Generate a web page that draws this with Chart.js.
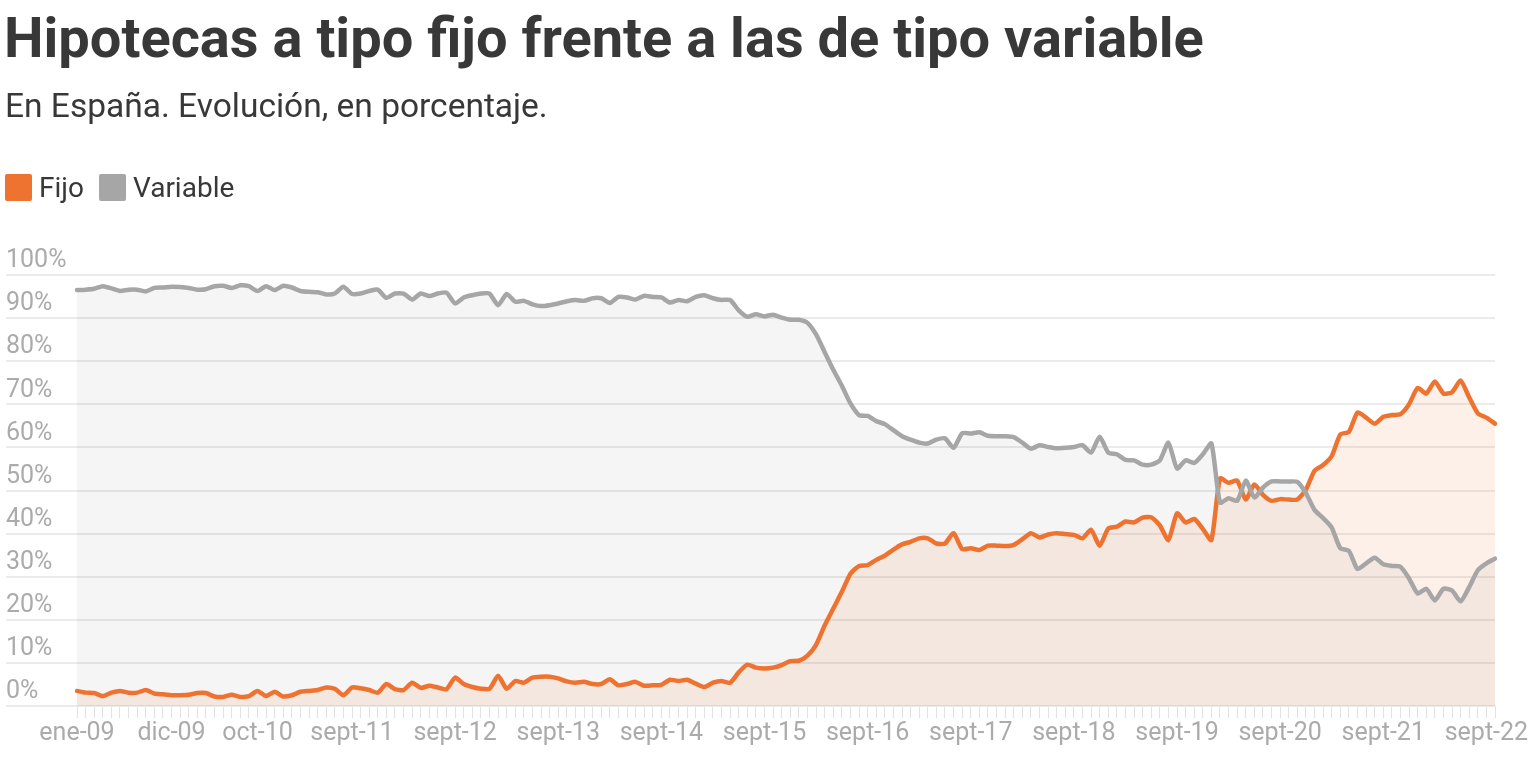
<!DOCTYPE html>
<html>
<head>
<meta charset="utf-8">
<script src="https://cdn.jsdelivr.net/npm/chart.js@4.4.0/dist/chart.umd.min.js"></script>
<style>
  html, body { margin: 0; padding: 0; background: #ffffff; }
  #wrap { position: relative; width: 1528px; height: 758px; overflow: hidden; font-family: Roboto, "Noto Sans", sans-serif; }
  #chart { position: absolute; left: 0; top: 0; }
  #title { position: absolute; left: 4px; top: 10px; font-size: 56px; line-height: 1; font-weight: 700; color: #383838; white-space: nowrap; }
  #subtitle { position: absolute; left: 5px; top: 89px; font-size: 33.5px; line-height: 1; font-weight: 400; color: #383838; white-space: nowrap; }
  #legend { position: absolute; left: 5px; top: 174px; height: 27px; display: flex; align-items: center; font-size: 28px; color: #383838; }
  #legend .box { width: 27px; height: 27px; border-radius: 2px; margin-right: 7px; }
  #legend .txt { line-height: 27px; margin-right: 15px; white-space: nowrap; }
</style>
</head>
<body>
<div id="wrap">
  <canvas id="chart" width="1528" height="758"></canvas>
  <div id="title">Hipotecas a tipo fijo frente a las de tipo variable</div>
  <div id="subtitle">En España. Evolución, en porcentaje.</div>
  <div id="legend"></div>
</div>
<script>
// ---- Data ----
const monthNames = ['ene','feb','mar','abr','may','jun','jul','ago','sept','oct','nov','dic'];
const startYear = 2009, endYear = 2022, endMonth = 10; // ene-09 .. oct-22
const categories = [];
for (let y = startYear; y <= endYear; y++) {
  for (let m = 1; m <= 12; m++) {
    if (y === endYear && m > endMonth) break;
    categories.push(monthNames[m - 1] + '-' + String(y).slice(2));
  }
}
const tickLabels = ['ene-09','dic-09','oct-10','sept-11','sept-12','sept-13','sept-14','sept-15',
                    'sept-16','sept-17','sept-18','sept-19','sept-20','sept-21','sept-22'];

const fijo = [
  3.5, 3.1, 3.0, 2.3, 3.1, 3.5, 3.1, 3.1, 3.7, 2.9, 2.7, 2.5,
  2.5, 2.6, 3.0, 3.0, 2.2, 2.1, 2.6, 2.1, 2.3, 3.5, 2.3, 3.3,
  2.2, 2.5, 3.3, 3.5, 3.7, 4.3, 4.0, 2.5, 4.3, 4.1, 3.7, 3.1,
  5.1, 3.9, 3.7, 5.4, 4.2, 4.7, 4.3, 3.9, 6.6, 5.1, 4.4, 4.0,
  4.0, 7.0, 4.0, 5.8, 5.4, 6.6, 6.8, 6.8, 6.4, 5.7, 5.4, 5.6,
  5.1, 5.1, 6.2, 4.8, 5.1, 5.6, 4.7, 4.8, 4.9, 6.1, 5.8, 6.1,
  5.2, 4.4, 5.4, 5.8, 5.4, 7.8, 9.6, 8.9, 8.7, 8.9, 9.5, 10.4,
  10.5, 11.7, 14.2, 18.7, 22.6, 26.5, 30.7, 32.5, 32.7, 33.9, 34.9, 36.3,
  37.5, 38.1, 38.9, 38.9, 37.7, 37.7, 40.1, 36.4, 36.6, 36.2, 37.2, 37.2,
  37.1, 37.4, 38.7, 40.1, 39.1, 39.8, 40.1, 39.9, 39.7, 38.9, 40.9, 37.2,
  41.2, 41.6, 42.8, 42.6, 43.7, 43.8, 41.9, 38.5, 44.7, 42.6, 43.4, 41.1,
  38.5, 52.8, 51.8, 52.3, 47.9, 51.4, 49.0, 47.6, 48.0, 47.9, 47.9, 50.2,
  54.6, 55.9, 58.0, 63.0, 63.6, 68.1, 66.9, 65.5, 67.1, 67.5, 67.7, 70.0,
  73.8, 72.5, 75.3, 72.5, 72.8, 75.5, 71.6, 67.9, 66.9, 65.5
];
const variable = [
  96.5, 96.6, 96.8, 97.4, 96.9, 96.3, 96.6, 96.6, 96.2, 97.0, 97.1, 97.3,
  97.2, 97.0, 96.6, 96.7, 97.4, 97.5, 97.0, 97.6, 97.4, 96.3, 97.4, 96.5,
  97.5, 97.1, 96.3, 96.1, 96.0, 95.5, 95.7, 97.3, 95.6, 95.7, 96.3, 96.6,
  94.7, 95.7, 95.7, 94.3, 95.7, 95.1, 95.7, 95.9, 93.4, 94.8, 95.3, 95.7,
  95.7, 93.0, 95.6, 93.8, 94.0, 93.2, 92.8, 93.0, 93.4, 93.9, 94.2, 94.0,
  94.6, 94.6, 93.5, 94.9, 94.8, 94.3, 95.2, 94.9, 94.8, 93.6, 94.2, 93.9,
  94.9, 95.3, 94.6, 94.2, 94.2, 91.8, 90.3, 90.9, 90.4, 90.8, 90.1, 89.6,
  89.6, 88.9, 86.2, 82.1, 78.0, 74.3, 70.2, 67.5, 67.3, 66.1, 65.4, 64.0,
  62.6, 61.8, 61.1, 60.9, 61.8, 62.1, 59.9, 63.3, 63.2, 63.5, 62.7, 62.6,
  62.6, 62.4, 61.1, 59.7, 60.5, 60.1, 59.8, 59.9, 60.1, 60.5, 58.8, 62.5,
  58.8, 58.4, 57.1, 57.0, 56.0, 56.0, 57.0, 61.1, 55.1, 57.0, 56.4, 58.4,
  60.9, 47.2, 48.2, 47.6, 52.3, 48.4, 50.7, 52.1, 52.1, 52.1, 52.0, 49.4,
  45.5, 43.6, 41.4, 36.6, 36.0, 31.8, 33.1, 34.4, 32.9, 32.5, 32.3, 29.6,
  26.1, 27.2, 24.5, 27.2, 26.8, 24.3, 27.6, 31.5, 33.1, 34.2
];

const seriesNames = ['Fijo', 'Variable'];
const ORANGE = '#ef7330';
const GRAY = '#a6a6a6';

// ---- Legend (HTML) ----
const legendEl = document.getElementById('legend');
[[seriesNames[0], ORANGE], [seriesNames[1], GRAY]].forEach(([name, col]) => {
  const b = document.createElement('span'); b.className = 'box'; b.style.background = col;
  const t = document.createElement('span'); t.className = 'txt'; t.textContent = name;
  legendEl.appendChild(b); legendEl.appendChild(t);
});

// ---- Chart ----
const tickFont = { family: 'Roboto', size: 25 };
new Chart(document.getElementById('chart'), {
  type: 'line',
  data: {
    labels: categories,
    datasets: [
      { label: seriesNames[0], data: fijo, borderColor: ORANGE, backgroundColor: 'rgba(240,114,48,0.11)',
        fill: 'origin', borderWidth: 4.5, pointRadius: 0, pointHoverRadius: 0, tension: 0.2,
        borderJoinStyle: 'round', borderCapStyle: 'round', order: 1 },
      { label: seriesNames[1], data: variable, borderColor: GRAY, backgroundColor: 'rgba(0,0,0,0.04)',
        fill: 'origin', borderWidth: 4.5, pointRadius: 0, pointHoverRadius: 0, tension: 0.2,
        borderJoinStyle: 'round', borderCapStyle: 'round', order: 0 }
    ]
  },
  options: {
    responsive: false,
    animation: false,
    events: [],
    layout: { padding: { top: 275, left: 6, right: 33, bottom: 8 } },
    plugins: {
      legend: { display: false },
      title: { display: false },
      tooltip: { enabled: false },
      filler: { drawTime: 'beforeDatasetsDraw' }
    },
    scales: {
      x: {
        grid: { drawOnChartArea: false, drawTicks: true, tickLength: 12, color: '#e2e2e2', lineWidth: 1 },
        border: { display: false },
        ticks: {
          autoSkip: false, maxRotation: 0, minRotation: 0, padding: 1,
          color: '#ababab', font: tickFont,
          callback: function (v, i) { const l = categories[i]; return tickLabels.includes(l) ? l : ''; }
        }
      },
      y: {
        min: 0, max: 100,
        afterFit: function (s) { s.width = 71; },
        grid: { color: '#ebebeb', lineWidth: 2, tickLength: 71, drawTicks: true },
        border: { display: false },
        ticks: {
          stepSize: 10, crossAlign: 'far', labelOffset: -14, padding: 0,
          color: '#ababab', font: tickFont,
          callback: function (v) { return v + '%'; }
        }
      }
    }
  }
});
</script>
</body>
</html>
